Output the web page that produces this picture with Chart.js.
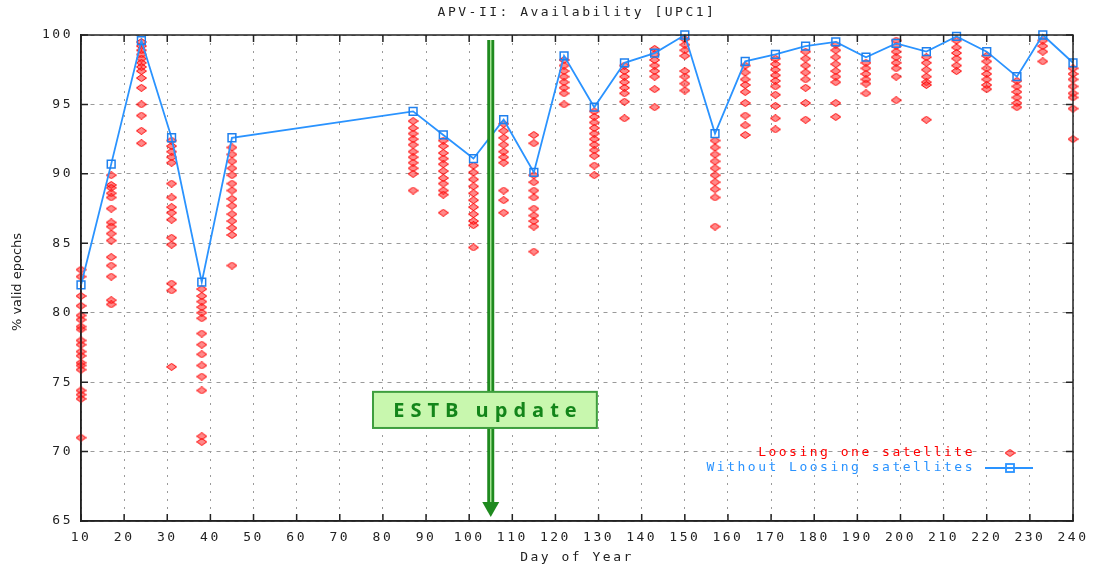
<!DOCTYPE html>
<html>
<head>
<meta charset="utf-8">
<script src="https://cdn.jsdelivr.net/npm/chart.js@4.4.1/dist/chart.umd.min.js"></script>
<style>
  html, body { margin: 0; padding: 0; background: #fff; }
  #wrap { width: 1094px; height: 568px; }
</style>
</head>
<body>
<div id="wrap"><canvas id="avail_canvas" width="1094" height="568"></canvas></div>
<script>
// days of year with a computed availability
const days = [10, 17, 24, 31, 38, 45, 87, 94, 101, 108, 115, 122, 129, 136, 143, 150, 157, 164, 171, 178, 185, 192, 199, 206, 213, 220, 227, 233, 240];

// % valid epochs, all satellites in view
const availAll = [82.0, 90.7, 99.6, 92.6, 82.2, 92.6, 94.5, 92.8, 91.1, 93.9, 90.1, 98.5, 94.8, 98.0, 98.7, 100, 92.9, 98.1, 98.6, 99.2, 99.5, 98.4, 99.4, 98.8, 99.9, 98.8, 97.0, 100, 98.0];

// % valid epochs when loosing one satellite (one list per day above)
const availLoss = [
  [83.1, 82.6, 81.2, 80.5, 79.8, 79.5, 79.0, 78.8, 78.0, 77.7, 77.2, 76.9, 76.4, 76.2, 75.9, 74.4, 74.1, 73.8, 71.0],
  [89.9, 89.2, 89.0, 88.6, 88.3, 87.5, 86.5, 86.2, 85.7, 85.2, 84.0, 83.4, 82.6, 80.9, 80.6],
  [99.5, 99.2, 98.9, 98.6, 98.3, 98.0, 97.7, 97.4, 96.9, 96.2, 95.0, 94.2, 93.1, 92.2],
  [92.4, 92.0, 91.6, 91.2, 90.8, 89.3, 88.3, 87.6, 87.2, 86.7, 85.4, 84.9, 82.1, 81.6, 76.1],
  [81.7, 81.2, 80.8, 80.4, 80.0, 79.6, 78.5, 77.7, 77.0, 76.2, 75.4, 74.4, 71.1, 70.7],
  [91.9, 91.4, 90.9, 90.4, 89.9, 89.3, 88.8, 88.2, 87.7, 87.1, 86.6, 86.1, 85.6, 83.4],
  [93.8, 93.3, 92.9, 92.5, 92.1, 91.6, 91.2, 90.8, 90.4, 90.0, 88.8],
  [92.4, 92.0, 91.5, 91.1, 90.7, 90.2, 89.7, 89.3, 88.8, 88.5, 87.2],
  [90.6, 90.1, 89.6, 89.1, 88.6, 88.1, 87.6, 87.1, 86.6, 86.3, 84.7],
  [93.6, 93.1, 92.6, 92.1, 91.6, 91.2, 90.8, 88.8, 88.1, 87.2],
  [92.8, 92.2, 89.9, 89.4, 88.8, 88.3, 87.5, 87.0, 86.6, 86.2, 84.4],
  [98.2, 97.8, 97.4, 97.0, 96.6, 96.2, 95.8, 95.0],
  [94.5, 94.1, 93.7, 93.3, 92.9, 92.5, 92.1, 91.7, 91.3, 90.6, 89.9],
  [97.8, 97.4, 97.0, 96.6, 96.2, 95.8, 95.2, 94.0],
  [99.0, 98.6, 98.2, 97.8, 97.4, 97.0, 96.1, 94.8],
  [99.7, 99.3, 98.9, 98.5, 97.4, 97.0, 96.5, 96.0],
  [92.4, 91.9, 91.4, 90.9, 90.4, 89.9, 89.4, 88.9, 88.3, 86.2],
  [97.8, 97.3, 96.8, 96.4, 95.9, 95.1, 94.2, 93.5, 92.8],
  [98.3, 97.9, 97.5, 97.1, 96.7, 96.3, 95.7, 94.9, 94.0, 93.2],
  [98.8, 98.3, 97.8, 97.3, 96.8, 96.2, 95.1, 93.9],
  [99.3, 98.9, 98.4, 97.9, 97.4, 97.0, 96.6, 95.1, 94.1],
  [98.0, 97.6, 97.2, 96.8, 96.5, 95.8],
  [99.6, 99.2, 98.8, 98.4, 98.0, 97.6, 97.0, 95.3],
  [98.4, 98.0, 97.5, 97.0, 96.6, 96.4, 93.9],
  [99.6, 99.1, 98.7, 98.3, 97.8, 97.4],
  [98.5, 98.1, 97.6, 97.2, 96.8, 96.4, 96.1],
  [96.7, 96.3, 95.9, 95.5, 95.1, 94.8],
  [99.6, 99.2, 98.8, 98.1],
  [97.6, 97.2, 96.8, 96.3, 95.8, 95.5, 94.7, 92.5]
];

// annotation: ESTB update
const updateDay = 105;
const updateText = 'ESTB update';
const updateBoxDays = [77.7, 129.6];
const updateBoxValues = [74.3, 71.7];

const MONO = '"DejaVu Sans Mono", "Liberation Mono", monospace';
const RED = '#ff0000';
const BLUE = '#2a93ff';

// red diamond marker, a bit wider than tall like gnuplot's
const diamond = document.createElement('canvas');
diamond.width = 11; diamond.height = 8;
(function () {
  const d = diamond.getContext('2d');
  d.beginPath();
  d.moveTo(5.5, 0.5); d.lineTo(10.5, 4); d.lineTo(5.5, 7.5); d.lineTo(0.5, 4);
  d.closePath();
  d.fillStyle = 'rgba(255,40,40,0.55)';
  d.fill();
  d.strokeStyle = '#ff0000';
  d.lineWidth = 1;
  d.stroke();
})();

const lossPoints = [];
days.forEach((day, i) => availLoss[i].forEach(v => lossPoints.push({ x: day, y: v })));
const allPoints = days.map((day, i) => ({ x: day, y: availAll[i] }));

const gnuplotLook = {
  id: 'gnuplotLook',
  beforeDraw(chart) {
    chart.ctx.letterSpacing = '2.5px';
  },
  afterDatasetsDraw(chart) {
    const { ctx, chartArea: a, scales: { x, y } } = chart;
    ctx.save();
    // arrow
    const ax = x.getPixelForValue(updateDay);
    const top = a.top + 5, tip = a.bottom - 4, head = 15;
    ctx.fillStyle = '#1f8a1f';
    ctx.fillRect(ax - 3.5, top, 7, tip - head - top + 1);
    ctx.fillStyle = '#a6e596';
    ctx.fillRect(ax - 0.75, top, 1.5, tip - head - top + 1);
    ctx.fillStyle = '#1f8a1f';
    ctx.beginPath();
    ctx.moveTo(ax - 8.5, tip - head);
    ctx.lineTo(ax + 8.5, tip - head);
    ctx.lineTo(ax, tip);
    ctx.closePath();
    ctx.fill();
    // box
    const bx1 = x.getPixelForValue(updateBoxDays[0]), bx2 = x.getPixelForValue(updateBoxDays[1]);
    const by1 = y.getPixelForValue(updateBoxValues[0]), by2 = y.getPixelForValue(updateBoxValues[1]);
    ctx.fillStyle = '#c8f7ae';
    ctx.fillRect(bx1, by1, bx2 - bx1, by2 - by1);
    ctx.strokeStyle = '#3e9e3e';
    ctx.lineWidth = 2;
    ctx.strokeRect(bx1, by1, bx2 - bx1, by2 - by1);
    ctx.letterSpacing = '6px';
    ctx.font = 'bold 20px "Open Sans", "Noto Sans", sans-serif';
    ctx.fillStyle = '#13851a';
    ctx.textAlign = 'center';
    ctx.textBaseline = 'middle';
    ctx.fillText(updateText, (bx1 + bx2) / 2 + 3, (by1 + by2) / 2 + 1);
    ctx.restore();

    // legend
    ctx.save();
    ctx.letterSpacing = '2.5px';
    ctx.font = '13px ' + MONO;
    ctx.textAlign = 'right';
    ctx.textBaseline = 'middle';
    const lx = a.right - 98, sx = a.right - 63;
    const ly1 = a.bottom - 68, ly2 = a.bottom - 53;
    ctx.fillStyle = RED;
    ctx.fillText('Loosing one satellite', lx, ly1);
    ctx.fillStyle = BLUE;
    ctx.fillText('Without Loosing satellites', lx, ly2);
    ctx.drawImage(diamond, sx - 5.5, ly1 - 4);
    ctx.strokeStyle = BLUE;
    ctx.lineWidth = 1.8;
    ctx.beginPath();
    ctx.moveTo(sx - 25, ly2); ctx.lineTo(sx + 23, ly2);
    ctx.stroke();
    ctx.strokeRect(sx - 4, ly2 - 4, 8, 8);
    ctx.restore();
  },
  afterDraw(chart) {
    const { ctx, chartArea: a, scales: { x, y } } = chart;
    ctx.save();
    ctx.strokeStyle = '#222';
    ctx.lineWidth = 1.5;
    ctx.strokeRect(a.left, a.top, a.right - a.left, a.bottom - a.top);
    // inward ticks on all four sides
    ctx.beginPath();
    x.ticks.forEach(t => {
      const px = x.getPixelForValue(t.value);
      ctx.moveTo(px, a.bottom); ctx.lineTo(px, a.bottom - 7);
      ctx.moveTo(px, a.top); ctx.lineTo(px, a.top + 7);
    });
    y.ticks.forEach(t => {
      const py = y.getPixelForValue(t.value);
      ctx.moveTo(a.left, py); ctx.lineTo(a.left + 7, py);
      ctx.moveTo(a.right, py); ctx.lineTo(a.right - 7, py);
    });
    ctx.stroke();
    // y axis title
    ctx.letterSpacing = '0px';
    ctx.translate(18, (a.top + a.bottom) / 2 + 4);
    ctx.rotate(-Math.PI / 2);
    ctx.font = '13px "DejaVu Sans", sans-serif';
    ctx.fillStyle = '#222';
    ctx.textAlign = 'center';
    ctx.textBaseline = 'middle';
    ctx.fillText('% valid epochs', 0, 0);
    ctx.restore();
  }
};

const ctx = document.getElementById('avail_canvas').getContext('2d');
const avail_chart = new Chart(ctx, {
  type: 'scatter',
  data: {
    datasets: [
      {
        label: 'Without Loosing satellites',
        data: allPoints,
        showLine: true,
        borderColor: BLUE,
        borderWidth: 1.8,
        pointStyle: 'rect',
        pointRadius: 5.5,
        pointBorderColor: '#1f80ee',
        pointBorderWidth: 1.5,
        pointBackgroundColor: 'rgba(0,0,0,0)',
        clip: false,
        order: 0
      },
      {
        label: 'Loosing one satellite',
        data: lossPoints,
        pointStyle: diamond,
        pointRadius: 4,
        clip: false,
        order: 1
      }
    ]
  },
  options: {
    responsive: false,
    animation: false,
    devicePixelRatio: 1,
    events: [],
    layout: { padding: { left: 0, right: 21, top: 0, bottom: 0 } },
    scales: {
      x: {
        type: 'linear',
        min: 10,
        max: 240,
        afterFit: s => { s.height = 47; },
        ticks: { stepSize: 10, color: '#222', padding: 9, font: { family: MONO, size: 13 }, maxRotation: 0 },
        grid: { color: '#9a9a9a', lineWidth: 1, drawTicks: false },
        border: { color: '#222', width: 1.5, dash: [2, 6] },
        title: { display: true, text: 'Day of Year', color: '#222', font: { family: MONO, size: 13 }, padding: { top: 0, bottom: 3 } }
      },
      y: {
        min: 65,
        max: 100,
        afterFit: s => { s.width = 81; },
        ticks: { stepSize: 5, color: '#222', padding: 8, font: { family: MONO, size: 13 } },
        grid: { color: '#9a9a9a', lineWidth: 1, drawTicks: false },
        border: { color: '#222', width: 1.5, dash: [4, 5] }
      }
    },
    plugins: {
      legend: { display: false },
      tooltip: { enabled: false },
      title: {
        display: true,
        fullSize: false,
        text: 'APV-II: Availability [UPC1]',
        color: '#222',
        font: { family: MONO, size: 13, weight: 'normal' },
        padding: { top: 5, bottom: 14.4 }
      }
    }
  },
  plugins: [gnuplotLook]
});
</script>
</body>
</html>
